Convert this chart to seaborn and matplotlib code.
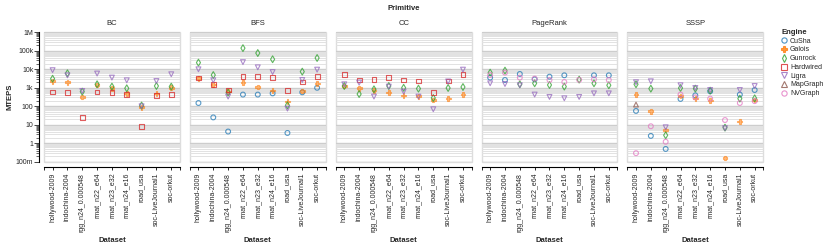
import numpy as np
import pandas as pd
import matplotlib.pyplot as plt
import matplotlib.ticker as mticker
from matplotlib.colors import to_rgb
from matplotlib.lines import Line2D
import seaborn as sns

datasets = ["hollywood-2009", "indochina-2004", "rgg_n24_0.000548", "rmat_n22_e64",
            "rmat_n23_e32", "rmat_n24_e16", "road_usa", "soc-LiveJournal1", "soc-orkut"]
primitives = ["BC", "BFS", "CC", "PageRank", "SSSP"]
engines = ["CuSha", "Galois", "Gunrock", "Hardwired", "Ligra", "MapGraph", "NVGraph"]

# MTEPS per engine, one value per dataset (None = no result)
bc = {
    "Galois": [2250, 2000, 320, 1400, 940, 500, 90, 500, 1000],
    "Gunrock": [3100, 6100, 620, 1550, 1160, 940, 110, 1250, 1160],
    "Hardwired": [590, 550, 24, 590, 550, 445, 8.3, 390, 445],
    "Ligra": [9000, 4700, 670, 5900, 3560, 2540, 100, 2330, 5400],
}
bfs = {
    "CuSha": [150, 25, 4.3, 430, 430, 500, 3.6, 570, 1000],
    "Galois": [3300, 1500, 620, 1900, 1100, 730, 185, 670, 1750],
    "Gunrock": [23000, 4900, 550, 140000, 76000, 35000, 113, 7500, 41000],
    "Hardwired": [3400, 1550, 760, 4000, 4000, 3700, 700, 2060, 4000],
    "Ligra": [10000, 2540, 335, 24500, 12800, 7100, 75, 2640, 9600],
}
cc = {
    "Galois": [1250, 940, 730, 550, 390, 350, 220, 270, 430],
    "Gunrock": [1250, 460, 830, 1250, 1000, 900, 280, 975, 1100],
    "Hardwired": [5200, 2640, 2880, 3700, 2640, 2330, 550, 2330, 5200],
    "Ligra": [1550, 1900, 335, 1160, 620, 335, 69, 2200, 9600],
}
pagerank = {
    "CuSha": [3560, 2640, 5600, 2880, 4000, 4740, None, 4740, 4740],
    "Gunrock": [6600, 8500, 1550, 1750, 1420, 1160, 2770, 1750, 1370],
    "Ligra": [1750, 1600, 1370, 430, 320, 270, 320, 500, 500],
    "NVGraph": [4900, 6600, 3560, 3150, 2640, 2060, 2700, 2880, 2640],
}
sssp = {
    "CuSha": [56, 2.5, 0.49, 250, 390, 650, None, 430, 760],
    "Galois": [430, 54, 5.2, 360, 260, 210, 0.16, 15, 220],
    "Gunrock": [1550, 900, 2.7, 975, 900, 700, 7.0, 260, 270],
    "Ligra": [2000, 2250, 7.3, 1370, 975, 760, 6.5, 760, 1250],
    "MapGraph": [124, None, None, None, None, None, None, None, None],
    "NVGraph": [0.29, 8.3, 1.2, 430, 305, 260, 18, 150, 190],
}

tick_vals = [0.1, 1, 10, 100, 1e3, 1e4, 1e5, 1e6]
tick_labels = ["100m", "1", "10", "100", "1k", "10k", "100k", "1M"]

colors = ["#1f77b4", "#ff7f0e", "#2ca02c", "#d62728", "#9467bd", "#8c564b", "#e377c2"]
markers = ["o", "P", "d", "s", "v", "^", "o"]
palette = dict(zip(engines, colors))
marker_map = dict(zip(engines, markers))

rows = []
for prim, table in zip(primitives, [bc, bfs, cc, pagerank, sssp]):
    for eng in engines:
        if eng not in table:
            continue
        for i, v in enumerate(table[eng]):
            if v is not None:
                rows.append({"Primitive": prim, "Engine": eng, "Dataset": datasets[i],
                             "x": i, "MTEPS": v})
df = pd.DataFrame(rows)

sns.set_style("white")
plt.rcParams["font.family"] = ["Liberation Sans", "DejaVu Sans"]

g = sns.relplot(data=df, x="x", y="MTEPS", col="Primitive", col_order=primitives,
                hue="Engine", hue_order=engines, style="Engine", style_order=engines,
                palette=palette, markers=marker_map, kind="scatter", legend=False,
                s=12, height=2, aspect=0.7)
fig = g.figure
fig.set_size_inches(8.3, 2.47)
fig.subplots_adjust(left=0.053, right=0.9196, bottom=0.3453, top=0.869, wspace=0.0735)

g.set_titles("{col_name}", size=5.5, pad=5)

# scales first (shared y axis resets formatters on set_yscale)
for ax in g.axes.flat:
    ax.set_yscale("log")
    ax.set_ylim(0.1, 1e6)
    ax.set_xlim(-0.58, 8.58)

galois_rgb = to_rgb(palette["Galois"])
for k, ax in enumerate(g.axes.flat):
    for coll in ax.collections:
        fc = np.array(coll.get_facecolors())
        ec = fc.copy()
        ec[:, 3] = 0.75
        galois = np.all(np.isclose(fc[:, :3], galois_rgb), axis=1)
        fc[:, 3] = np.where(galois, 0.55, 0.0)
        ec[galois, 3] = 0.55
        coll.set_edgecolors(ec)
        coll.set_facecolors(fc)
        coll.set_linewidths(0.8)

    ax.grid(which="minor", axis="y", color="#e2e2e2", lw=0.7)
    ax.grid(which="major", axis="y", color="#cdcdcd", lw=1.0)
    ax.set_axisbelow(True)
    ax.patch.set_edgecolor("#dddddd")
    ax.patch.set_linewidth(1.0)

    for side in ["top", "right", "left"]:
        ax.spines[side].set_visible(False)
    ax.spines["bottom"].set_position(("outward", 3.6))
    ax.spines["bottom"].set_color("black")
    ax.spines["bottom"].set_linewidth(0.8)

    ax.set_xticks(range(len(datasets)))
    ax.set_xticklabels(datasets, rotation=90, fontsize=5)
    ax.set_xticks([-0.58, 8.58], minor=True)
    ax.tick_params(axis="x", which="both", direction="out", length=2.3, width=0.6,
                   pad=2, bottom=True, color="black")
    ax.set_xlabel("Dataset", fontsize=5.5, fontweight="bold", labelpad=4)

    if k == 0:
        ax.spines["left"].set_visible(True)
        ax.spines["left"].set_position(("outward", 3.4))
        ax.spines["left"].set_color("black")
        ax.spines["left"].set_linewidth(0.8)
        ax.tick_params(axis="y", which="major", length=3.3, width=0.6, pad=1, left=True)
        ax.tick_params(axis="y", which="minor", length=2.5, width=0.5, left=True)
        ax.set_ylabel("MTEPS", fontsize=5.5, fontweight="bold", labelpad=2)
    else:
        ax.tick_params(axis="y", which="both", left=False, labelleft=False)
        ax.set_ylabel("")

ax0 = g.axes.flat[0]
ax0.yaxis.set_major_locator(mticker.FixedLocator(tick_vals))
ax0.yaxis.set_major_formatter(mticker.FixedFormatter(tick_labels))
ax0.yaxis.set_minor_locator(mticker.LogLocator(base=10, subs=np.arange(2, 10), numticks=20))
ax0.yaxis.set_minor_formatter(mticker.NullFormatter())
ax0.tick_params(axis="y", labelsize=5)

fig.text(403.5 / 830, 1 - 8 / 247, "Primitive", ha="center", va="center",
         fontsize=5.5, fontweight="bold")

handles = []
for eng, c, m in zip(engines, colors, markers):
    face = (*to_rgb(c), 0.55) if eng == "Galois" else "none"
    handles.append(Line2D([], [], linestyle="", marker=m, markersize=3.8,
                          markeredgecolor=c, markerfacecolor=face, markeredgewidth=0.8,
                          alpha=0.8, label=eng))
leg = fig.legend(handles=handles, loc="upper left", bbox_to_anchor=(781 / 830, 1 - 29 / 247),
                 frameon=False, title="Engine", fontsize=5, alignment="left",
                 handlelength=0.9, handletextpad=0.4, labelspacing=0.25, borderpad=0,
                 borderaxespad=0)
leg.get_title().set_fontsize(5.5)
leg.get_title().set_fontweight("bold")

fig.savefig("out.png", dpi=100)
